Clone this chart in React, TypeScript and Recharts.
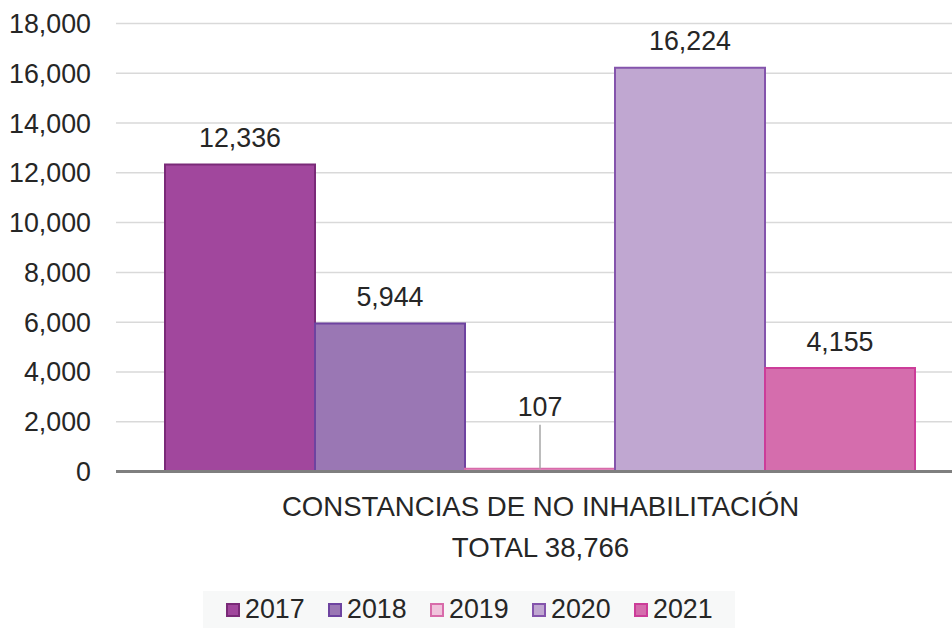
import React from "react";
import { BarChart, Bar, XAxis, YAxis, CartesianGrid, LabelList } from "recharts";

const categories = ["CONSTANCIAS DE NO INHABILITACIÓN"];
const subtitles = ["TOTAL 38,766"];
const years = ["2017", "2018", "2019", "2020", "2021"];
const values2017 = [12336];
const values2018 = [5944];
const values2019 = [107];
const values2020 = [16224];
const values2021 = [4155];
const yTicks = [0, 2000, 4000, 6000, 8000, 10000, 12000, 14000, 16000, 18000];

const fills = ["#A1479D", "#9A77B4", "#F0C3DC", "#C0A7D1", "#D56DAD"];
const strokes = ["#7A2A78", "#6E43A0", "#D86BAA", "#8454AC", "#CC3D99"];

const seriesValues = [values2017, values2018, values2019, values2020, values2021];

const data = categories.map((c, i) => {
  const row: any = { name: c, sub: subtitles[i] };
  years.forEach((y, k) => {
    row[y] = seriesValues[k][i];
  });
  return row;
});

const FONT = "'Liberation Sans', Arial, sans-serif";
const TEXT = "#262626";
const FS = 26.8;
const FSX = 27.6;

const fmt = (v: number) => v.toLocaleString("en-US");

const ValueLabel = (props: any) => {
  const { x, y, width, height, value } = props;
  const cx = x + width / 2;
  if (height < 20) {
    const labelY = y - 62;
    return (
      <g>
        <line x1={cx} x2={cx} y1={y - 44} y2={y} stroke="#A6A6A6" strokeWidth={1.5} />
        <text x={cx} y={labelY + 9.5} textAnchor="middle" fill={TEXT} fontSize={FS} fontFamily={FONT}>
          {fmt(value)}
        </text>
      </g>
    );
  }
  return (
    <text x={cx} y={y - 27 + 9.5} textAnchor="middle" fill={TEXT} fontSize={FS} fontFamily={FONT}>
      {fmt(value)}
    </text>
  );
};

const XTick = (props: any) => {
  const { x, y, payload, index } = props;
  const sub = data[payload.index ?? index ?? 0]?.sub;
  return (
    <g>
      <text x={x} y={y + 42} textAnchor="middle" fill={TEXT} fontSize={FSX} fontFamily={FONT}>
        {payload.value}
      </text>
      <text x={x} y={y + 83} textAnchor="middle" fill={TEXT} fontSize={FSX} fontFamily={FONT}>
        {sub}
      </text>
    </g>
  );
};

export default function App() {
  return (
    <div
      style={{
        position: "fixed",
        left: 0,
        top: 0,
        width: 952,
        height: 628,
        overflow: "hidden",
        background: "#fff",
      }}
    >
      <BarChart
        width={980}
        height={628}
        data={data}
        margin={{ top: 23.5, right: 15, bottom: 96.5, left: 0 }}
        barCategoryGap={49}
        barGap={0}
      >
        <CartesianGrid vertical={false} stroke="#D9D9D9" strokeWidth={1.5} />
        <XAxis
          dataKey="name"
          height={60}
          tickLine={false}
          tickSize={0}
          axisLine={{ stroke: "#7F7F7F", strokeWidth: 3 }}
          tick={<XTick />}
          interval={0}
        />
        <YAxis
          width={116}
          domain={[0, 18000]}
          ticks={yTicks}
          axisLine={false}
          tickLine={false}
          tickSize={0}
          tickMargin={25}
          tickFormatter={fmt}
          tick={{ fill: TEXT, fontSize: FS, fontFamily: FONT }}
        />
        {years.map((y, k) => (
          <Bar
            key={y}
            dataKey={y}
            fill={fills[k]}
            stroke={strokes[k]}
            strokeWidth={2}
            isAnimationActive={false}
          >
            <LabelList dataKey={y} content={<ValueLabel />} />
          </Bar>
        ))}
      </BarChart>
      <div
        style={{
          position: "absolute",
          left: 203,
          top: 591,
          width: 532,
          height: 37,
          background: "#F7F8F8",
          fontFamily: FONT,
          fontSize: FS,
          color: TEXT,
        }}
      >
        {years.map((y, k) => (
          <div
            key={y}
            style={{ position: "absolute", left: 23 + k * 102, top: 0, height: 37, display: "flex", alignItems: "center" }}
          >
            <div
              style={{
                width: 10,
                height: 10,
                background: fills[k],
                border: `2px solid ${strokes[k]}`,
                marginRight: 5,
                flexShrink: 0,
              }}
            />
            <span style={{ lineHeight: "37px" }}>{y}</span>
          </div>
        ))}
      </div>
    </div>
  );
}
